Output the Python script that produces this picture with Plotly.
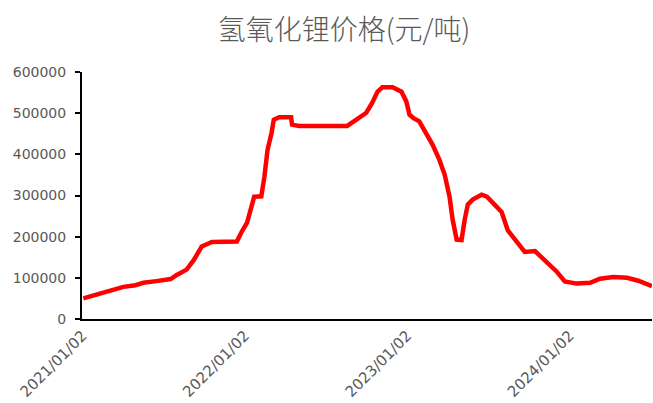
import plotly.graph_objects as go

# 氢氧化锂价格 (元/吨)
dates = [
    "2021-01-04", "2021-01-27", "2021-02-25", "2021-03-19", "2021-04-04",
    "2021-05-01", "2021-05-19", "2021-06-17", "2021-07-19", "2021-08-02",
    "2021-08-24", "2021-09-09", "2021-09-27", "2021-10-20", "2021-12-15",
    "2021-12-26", "2022-01-07", "2022-01-23", "2022-02-08", "2022-02-15",
    "2022-02-22", "2022-03-03", "2022-03-08", "2022-03-20", "2022-04-16",
    "2022-04-18", "2022-05-04", "2022-08-20", "2022-09-09", "2022-10-02",
    "2022-10-15", "2022-10-27", "2022-11-07", "2022-11-30", "2022-12-20",
    "2022-12-31", "2023-01-07", "2023-01-16", "2023-01-29", "2023-02-14",
    "2023-02-28", "2023-03-15", "2023-03-27", "2023-04-07", "2023-04-14",
    "2023-04-23", "2023-05-04", "2023-05-11", "2023-05-18", "2023-05-29",
    "2023-06-18", "2023-06-30", "2023-07-22", "2023-08-02", "2023-08-16",
    "2023-09-05", "2023-09-23", "2023-10-16", "2023-11-07", "2023-12-04",
    "2023-12-22", "2024-01-18", "2024-02-17", "2024-03-10", "2024-04-09",
    "2024-05-10", "2024-06-04", "2024-07-01", "2024-07-05",
]
prices = [
    50000, 57000, 66000, 71000, 78000,
    82000, 88000, 92000, 97000, 107000,
    120000, 143000, 176000, 187000, 188000,
    212000, 234000, 297000, 298000, 346000,
    411000, 452000, 484000, 490000, 490000,
    472000, 469000, 469000, 484000, 501000,
    525000, 552000, 563000, 563000, 552000,
    528000, 496000, 488000, 480000, 452000,
    423000, 387000, 351000, 297000, 241000,
    193000, 192000, 241000, 278000, 290000,
    302000, 297000, 270000, 260000, 215000,
    188000, 163000, 165000, 144000, 115000,
    91000, 86000, 88000, 98000, 102000,
    100000, 93000, 83000, 80000,
]

tick_dates = ["2021-01-02", "2022-01-02", "2023-01-02", "2024-01-02"]
tick_labels = ["2021/01/02", "2022/01/02", "2023/01/02", "2024/01/02"]
y_ticks = [0, 100000, 200000, 300000, 400000, 500000, 600000]

fig = go.Figure(
    go.Scatter(
        x=dates, y=prices, mode="lines",
        line=dict(color="#FF0000", width=4.5),
        hoverinfo="skip",
    )
)

fig.update_layout(
    width=653, height=403,
    paper_bgcolor="white", plot_bgcolor="white",
    margin=dict(l=82, r=1, t=72, b=84),
    showlegend=False,
    title=dict(
        text="氢氧化锂价格(元/吨)",
        xref="container", yref="container",
        x=344 / 653, xanchor="center",
        y=1 - 30 / 403, yanchor="middle",
        font=dict(family="Noto Sans CJK SC", size=28, color="#595959", weight=300),
    ),
)

fig.update_xaxes(
    type="date",
    range=["2021-01-01", "2024-07-05"],
    tickvals=tick_dates, ticktext=tick_labels,
    tickangle=-45,
    ticks="",
    showgrid=False, zeroline=False,
    showline=True, linecolor="black", linewidth=2,
    tickfont=dict(family="DejaVu Sans", size=15, color="#595959"),
)

fig.update_yaxes(
    range=[0, 600000],
    tickvals=y_ticks, ticktext=[str(v) for v in y_ticks],
    ticks="outside", ticklen=5, tickwidth=2, tickcolor="black",
    ticklabelstandoff=6,
    showgrid=False, zeroline=False,
    showline=True, linecolor="black", linewidth=2,
    tickfont=dict(family="DejaVu Sans", size=14, color="#595959"),
)

fig.write_html("out.html")
